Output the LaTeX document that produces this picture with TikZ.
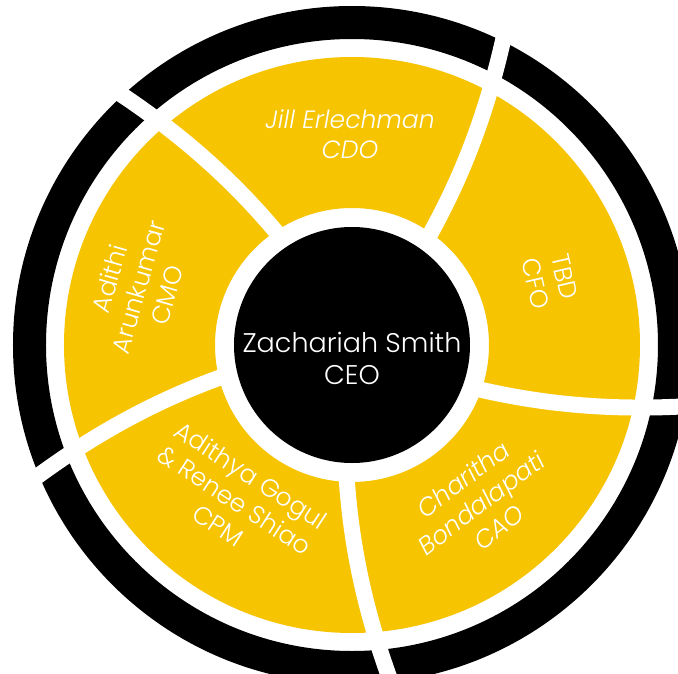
\documentclass[tikz,border=0pt]{standalone}
\usepackage{fontspec}
\setmainfont{Poppins}[UprightFont={* Light},ItalicFont={* Light Italic}]
\definecolor{gold}{RGB}{246,196,0}
\begin{document}
\begin{tikzpicture}[x=1pt,y=1pt,
  divider/.style={draw=white,line width=16pt},
  lbl/.style={text=white,align=center,inner sep=0pt,font=\fontsize{25}{30}\selectfont},
  ilbl/.style={lbl,font=\fontsize{25}{30}\selectfont\itshape},
  ceotext/.style={text=white,align=center,inner sep=0pt,font=\fontsize{27}{32}\selectfont}]
\useasboundingbox (-352,-328) rectangle (326,345);
\clip (-352,-328) rectangle (326,345);
\fill[white] (-352,-328) rectangle (326,345);
% outer black ring
\fill[black,even odd rule] (0,0) circle (339) (0,0) circle (306);
% yellow ring
\fill[gold,even odd rule] (0,0) circle (288) (0,0) circle (137);
% curved dividers
\foreach \r in {0,69,139,213,286}{
  \begin{scope}[rotate=\r]
    \draw[divider] (72,100) .. controls (112,169.3) and (137.4,239.7) .. (154,318);
  \end{scope}
}
% centre disk
\fill[black] (0,0) circle (118);
\node[ceotext] (ceo) at (0,-13) {Zachariah Smith\\CEO};
\node[ilbl] (cdo) at (-2,211) {Jill Erlechman\\CDO};
\node[lbl,rotate=-77] (cfo) at (198,65) {TBD\\CFO};
\node[lbl,rotate=74] (cmo) at (-214,58) {Adithi\\Arunkumar\\CMO};
\node[lbl,rotate=-33] (cpm) at (-117,-155) {Adithya Gogul\\\& Renee Shiao\\CPM};
\node[ilbl,rotate=37] (cao) at (129,-158) {Charitha\\Bondalapati\\CAO};
\end{tikzpicture}
\end{document}
